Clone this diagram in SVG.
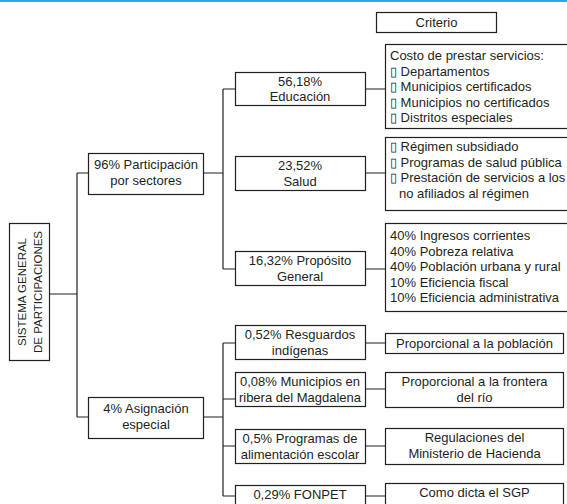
<svg xmlns="http://www.w3.org/2000/svg" width="567" height="504" viewBox="0 0 567 504">
<style>
.b{fill:#fff;stroke:#231f20;stroke-width:1.2}
.t{font-family:"Liberation Sans",Arial,sans-serif;font-size:13px;fill:#231f20}
.c{text-anchor:middle}
.l{fill:none;stroke:#231f20;stroke-width:1.2}
</style>
<rect x="0" y="0" width="567" height="504" fill="#fff"/>
<rect x="0" y="0" width="567" height="2" fill="#29a9e1"/>

<g id="connectors">
<path class="l" d="M50 294H77M77 173V417M77 173H88M77 417H88"/>
<path class="l" d="M203 173H223M223 89V269M223 89H235M223 269H235"/>
<path class="l" d="M365 89H385M365 173H385M365 269H385"/>
<path class="l" d="M203 417H223M223 343V496M223 343H235M223 399H235M223 446H235M223 496H235"/>
<path class="l" d="M365 343H385M365 389H385M365 446H385M365 496H385"/>
</g>

<g id="criterio">
<rect class="b" x="376.5" y="12.5" width="120" height="20"/>
<text class="t c" x="436.5" y="27">Criterio</text>
</g>

<g id="sgp">
<rect class="b" x="9.5" y="223.5" width="40" height="137"/>
<text class="t c" style="font-size:11.5px" transform="translate(25.5,292) rotate(-90)">SISTEMA GENERAL</text>
<text class="t c" style="font-size:11.5px" transform="translate(41.5,292) rotate(-90)">DE PARTICIPACIONES</text>
</g>

<g id="sectores">
<rect class="b" x="88.5" y="153.5" width="115" height="41"/>
<text class="t c" x="146" y="169">96% Participación</text>
<text class="t c" x="146" y="185">por sectores</text>
</g>

<g id="asignacion">
<rect class="b" x="88.5" y="397.5" width="115" height="41"/>
<text class="t c" x="146" y="413">4% Asignación</text>
<text class="t c" x="146" y="429">especial</text>
</g>

<g id="educacion">
<rect class="b" x="235.5" y="72.5" width="130" height="33"/>
<text class="t c" x="300" y="86">56,18%</text>
<text class="t c" x="300" y="101">Educación</text>
</g>

<g id="salud">
<rect class="b" x="235.5" y="156.5" width="130" height="34"/>
<text class="t c" x="300" y="170">23,52%</text>
<text class="t c" x="300" y="186">Salud</text>
</g>

<g id="proposito">
<rect class="b" x="235.5" y="251.5" width="130" height="34"/>
<text class="t c" x="300" y="265">16,32% Propósito</text>
<text class="t c" x="300" y="281">General</text>
</g>

<g id="resguardos">
<rect class="b" x="235.5" y="325.5" width="130" height="34"/>
<text class="t c" x="300" y="339">0,52% Resguardos</text>
<text class="t c" x="300" y="355">indígenas</text>
</g>

<g id="magdalena">
<rect class="b" x="235.5" y="372.5" width="130" height="34"/>
<text class="t c" x="300" y="386">0,08% Municipios en</text>
<text class="t c" x="300" y="402">ribera del Magdalena</text>
</g>

<g id="alimentacion">
<rect class="b" x="235.5" y="429.5" width="130" height="34"/>
<text class="t c" x="300" y="443">0,5% Programas de</text>
<text class="t c" x="300" y="459">alimentación escolar</text>
</g>

<g id="fonpet">
<rect class="b" x="235.5" y="485.5" width="130" height="30"/>
<text class="t c" x="300" y="499">0,29% FONPET</text>
</g>

<g id="crit-educacion">
<rect class="b" x="385.5" y="44.5" width="190" height="84"/>
<text class="t" x="390" y="60">Costo de prestar servicios:</text>
<text class="t" x="390" y="76">▯ Departamentos</text>
<text class="t" x="390" y="91">▯ Municipios certificados</text>
<text class="t" x="390" y="107">▯ Municipios no certificados</text>
<text class="t" x="390" y="122">▯ Distritos especiales</text>
</g>

<g id="crit-salud">
<rect class="b" x="385.5" y="137.5" width="190" height="73"/>
<text class="t" x="390" y="151">▯ Régimen subsidiado</text>
<text class="t" x="390" y="167">▯ Programas de salud pública</text>
<text class="t" x="390" y="182">▯ Prestación de servicios a los</text>
<text class="t" x="399" y="198">no afiliados al régimen</text>
</g>

<g id="crit-proposito">
<rect class="b" x="385.5" y="223.5" width="190" height="88"/>
<text class="t" x="390" y="240">40% Ingresos corrientes</text>
<text class="t" x="390" y="256">40% Pobreza relativa</text>
<text class="t" x="390" y="271">40% Población urbana y rural</text>
<text class="t" x="390" y="287">10% Eficiencia fiscal</text>
<text class="t" x="390" y="302">10% Eficiencia administrativa</text>
</g>

<g id="crit-resguardos">
<rect class="b" x="385.5" y="333.5" width="178" height="20"/>
<text class="t c" x="474.5" y="348">Proporcional a la población</text>
</g>

<g id="crit-magdalena">
<rect class="b" x="385.5" y="372.5" width="178" height="35"/>
<text class="t c" x="474.5" y="386">Proporcional a la frontera</text>
<text class="t c" x="474.5" y="402">del río</text>
</g>

<g id="crit-alimentacion">
<rect class="b" x="385.5" y="428.5" width="178" height="36"/>
<text class="t c" x="474.5" y="442">Regulaciones del</text>
<text class="t c" x="474.5" y="458">Ministerio de Hacienda</text>
</g>

<g id="crit-fonpet">
<rect class="b" x="385.5" y="483.5" width="178" height="30"/>
<text class="t c" x="474.5" y="497">Como dicta el SGP</text>
</g>
</svg>
